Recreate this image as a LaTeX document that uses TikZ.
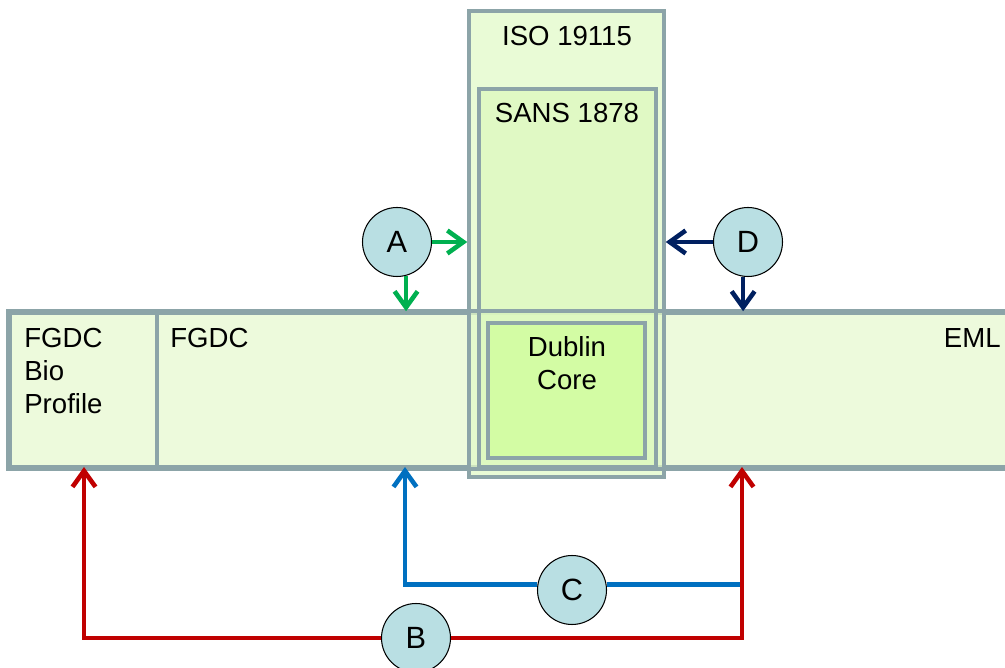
\documentclass[tikz,border=0pt]{standalone}
\usepackage{fontspec}
\setmainfont{Liberation Sans}
\usetikzlibrary{arrows.meta,positioning,calc,fit}
\definecolor{boxline}{RGB}{140,164,168}
\definecolor{emlfill}{RGB}{237,250,220}
\definecolor{isofill}{RGB}{226,249,200}
\definecolor{sansfill}{RGB}{221,249,190}
\definecolor{dcfill}{RGB}{211,252,164}
\definecolor{badgefill}{RGB}{185,223,227}
\definecolor{flowgreen}{RGB}{0,176,80}
\definecolor{flownavy}{RGB}{0,32,96}
\definecolor{flowblue}{RGB}{0,112,192}
\definecolor{flowred}{RGB}{192,0,0}

\begin{document}
\begin{tikzpicture}[x=0.02cm,y=-0.02cm,
  stdbox/.style={draw=boxline,line width=2pt,inner sep=0pt},
  lbl/.style={inner sep=0pt,font=\fontsize{15.7}{18.8}\selectfont},
  badge/.style={circle,draw=black,line width=0.6pt,fill=badgefill,minimum size=1.38cm,inner sep=0pt,font=\fontsize{17.5}{20}\selectfont},
  flow/.style={line width=2.6pt,-{Straight Barb[length=0.32cm,width=0.46cm]}},
  flowline/.style={line width=2.6pt}]
  \useasboundingbox (0,0) rectangle (1005,668);
  \clip (0,0) rectangle (1005,668);
  % standards
  \node[stdbox,fill=emlfill,fit={(10,313) (1040,467)}] (eml) {};
  \node[stdbox,fill=isofill,fill opacity=0.75,fit={(469,11) (664,477)}] (iso) {};
  \node[stdbox,fill=sansfill,fill opacity=0.75,fit={(479,89) (656,467)}] (sans) {};
  \draw[boxline,line width=2pt] (eml.north west) rectangle (eml.south east);
  \node[stdbox,fit={(10,313) (157,467)}] (bio) {};
  \node[stdbox,fill=dcfill,fit={(488,323) (645,458)}] (dc) {};
  \node[lbl,anchor=north west,align=left] (biotxt) at (24,328) {FGDC\\Bio\\Profile};
  \node[lbl,anchor=north west] (fgdctxt) at (170,328) {FGDC};
  \node[lbl,anchor=north east] (emltxt) at (1001,328) {EML};
  \node[lbl,anchor=north] (isotxt) at (567,26) {ISO 19115};
  \node[lbl,anchor=north] (sanstxt) at (567,103) {SANS 1878};
  \node[lbl,anchor=north,align=center] (dctxt) at (567,336) {Dublin\\Core};
  % mappings
  \node[badge] (A) at (397,242) {A};
  \node[badge] (D) at (748,242) {D};
  \node[badge] (C) at (572,590) {C};
  \node[badge] (B) at (416,638) {B};
  \coordinate (bioport) at (84,467);
  \coordinate (fgdcport) at (405,467);
  \coordinate (emlport) at (742,467);
  \draw[flow,flowgreen] (A.east) -- (A.east -| iso.west);
  \draw[flow,flowgreen] (A.-75) -- (A.-75 |- eml.north);
  \draw[flow,flownavy] (D.west) -- (D.west -| iso.east);
  \draw[flow,flownavy] (D.-98) -- (D.-98 |- eml.north);
  \draw[flow,flowblue] (C.171) -| (fgdcport);
  \draw[flowline,flowblue] (C.9) -- (C.9 -| emlport);
  \draw[flow,flowred] (B.west) -| (bioport);
  \draw[flow,flowred] (B.east) -| (emlport);
\end{tikzpicture}
\end{document}
